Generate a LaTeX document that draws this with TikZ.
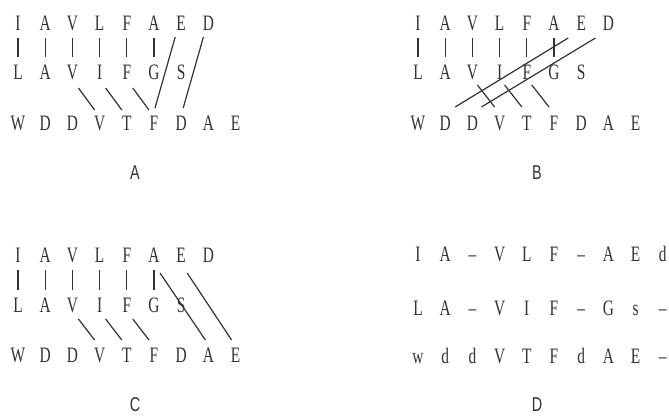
\documentclass[tikz,border=0pt]{standalone}
\usepackage{fontspec}
\setmainfont{Liberation Serif}[FakeStretch=0.7]
\newfontfamily\panelfont{Liberation Sans}[FakeStretch=0.72]
\usetikzlibrary{positioning,calc}
\definecolor{lead}{RGB}{50,50,50}
\tikzset{
  res/.style={inner sep=0pt,text height=14.5pt,text depth=0pt,
    font=\fontsize{22}{26}\selectfont,text=lead},
  pair/.style={draw=lead,line width=1.2pt,shorten <=15pt,shorten >=15pt},
  link/.style={draw=lead,line width=1.2pt},
  tag/.style={inner sep=0pt,text height=14.5pt,text depth=0pt,
    font=\panelfont\fontsize{20}{24}\selectfont,text=lead},
}

\begin{document}
\begin{tikzpicture}[x=1pt,y=-1pt]
  \useasboundingbox (0,0) rectangle (669,415);

  % A
  \foreach \l [count=\i from 0] in {I,A,V,L,F,A,E,D}
    \node[res] (At\i) at (18+27.2*\i,23) {\l};
  \foreach \l [count=\i from 0] in {L,A,V,I,F,G,S}
    \node[res] (Am\i) at (18+27.2*\i,72) {\l};
  \foreach \l [count=\i from 0] in {W,D,D,V,T,F,D,A,E}
    \node[res] (Ab\i) at (18+27.2*\i,123) {\l};
  \foreach \i in {0,...,5} \draw[pair] (At\i.center) -- (Am\i.center);
  \foreach \m/\b in {2/3,3/4,4/5}
    \draw[link] ($(Am\m)+(6,16)$) -- ($(Ab\b)+(-5,-13)$);
  \draw[link] ($(At6)+(-6,14)$) -- ($(Ab5)+(1,-15)$);
  \draw[link] ($(At7)+(-5,14)$) -- ($(Ab6)+(2,-15)$);
  \node[tag] (labA) at (135,172) {A};

  % B
  \foreach \l [count=\i from 0] in {I,A,V,L,F,A,E,D}
    \node[res] (Bt\i) at (418+27.2*\i,23) {\l};
  \foreach \l [count=\i from 0] in {L,A,V,I,F,G,S}
    \node[res] (Bm\i) at (418+27.2*\i,72) {\l};
  \foreach \l [count=\i from 0] in {W,D,D,V,T,F,D,A,E}
    \node[res] (Bb\i) at (418+27.2*\i,123) {\l};
  \foreach \i in {0,...,5} \draw[pair] (Bt\i.center) -- (Bm\i.center);
  \foreach \m/\b in {2/3,3/4,4/5}
    \draw[link] ($(Bm\m)+(5,13)$) -- ($(Bb\b)+(-5,-16)$);
  \draw[link] ($(Bt6)+(-13,15)$) -- ($(Bb1)+(10,-16)$);
  \draw[link] ($(Bt7)+(-13,15)$) -- ($(Bb2)+(9,-16)$);
  \node[tag] (labB) at (537,172) {B};

  % C
  \foreach \l [count=\i from 0] in {I,A,V,L,F,A,E,D}
    \node[res] (Ct\i) at (18+27.2*\i,255) {\l};
  \foreach \l [count=\i from 0] in {L,A,V,I,F,G,S}
    \node[res] (Cm\i) at (18+27.2*\i,305) {\l};
  \foreach \l [count=\i from 0] in {W,D,D,V,T,F,D,A,E}
    \node[res] (Cb\i) at (18+27.2*\i,355) {\l};
  \foreach \i in {0,...,5} \draw[pair] (Ct\i.center) -- (Cm\i.center);
  \foreach \m/\b in {2/3,3/4,4/5}
    \draw[link] ($(Cm\m)+(6,14)$) -- ($(Cb\b)+(-5,-15)$);
  \draw[link] ($(Ct5)+(6,18)$) -- ($(Cb7)+(-3,-15)$);
  \draw[link] ($(Ct6)+(6,18)$) -- ($(Cb8)+(-4,-15)$);
  \node[tag] (labC) at (135,404) {C};

  % D: gapped rows
  \foreach \l [count=\i from 0] in {I,A,–,V,L,F,–,A,E,d}
    \node[res] (Da\i) at (418+27.2*\i,254) {\l};
  \foreach \l [count=\i from 0] in {L,A,–,V,I,F,–,G,s,–}
    \node[res] (Db\i) at (418+27.2*\i,308) {\l};
  \foreach \l [count=\i from 0] in {w,d,d,V,T,F,d,A,E,–}
    \node[res] (Dc\i) at (418+27.2*\i,356) {\l};
  \node[tag] (labD) at (537,404) {D};
\end{tikzpicture}
\end{document}
